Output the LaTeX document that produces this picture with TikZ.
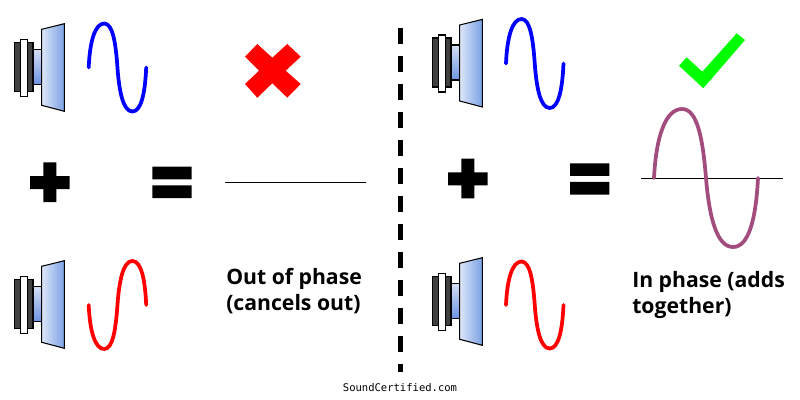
\documentclass[tikz,border=0pt]{standalone}
\usepackage{fontspec}
\setmainfont{Open Sans}
\newfontfamily\markfont{DejaVu Sans Mono}
\definecolor{conelight}{HTML}{DCE6F8}
\definecolor{conedark}{HTML}{7BA1E4}
\definecolor{necklight}{HTML}{D5DFF4}
\definecolor{neckdark}{HTML}{6C93E2}
\definecolor{magnet}{HTML}{404040}
\definecolor{sumwave}{HTML}{A34D7F}
\tikzset{
  x=0.75pt,y=-0.75pt,
  part/.style={draw=black,line width=0.8pt},
  wavestroke/.style={line width=2.8pt,line cap=round,line join=round},
  symbolfill/.style={fill=black,draw=none},
  caption/.style={font=\bfseries\fontsize{15.9pt}{19.3pt}\selectfont,anchor=north west,align=left,inner sep=0pt},
  speakerpic/.pic={
    \path[part,fill=magnet] (14.3,42.3) rectangle (33,91.3);
    \path[part,fill=white] (20.5,39.3) rectangle (27.2,96.3);
    \shade[part,top color=necklight,bottom color=neckdark] (33,49.3) rectangle (41.7,84.3);
    \shade[part,left color=conelight,right color=conedark] (41.7,29.3) -- (64.3,23.7) -- (64.3,111.3) -- (41.7,105.3) -- cycle;
  }
}
\newcommand{\drawwave}[5]{%
  \draw[wavestroke,draw=#1,shift={(#2,#3)},xscale=#4,yscale=#5]
    (0,0) .. controls (.02,-.6) and (.11,-1) .. (.27,-1)
    .. controls (.42,-1) and (.47,-.55) .. (.5,0)
    .. controls (.53,.55) and (.6,1) .. (.76,1)
    .. controls (.91,1) and (.98,.6) .. (1,0);}
\newcommand{\plussign}[2]{%
  \fill[symbolfill,shift={(#1,#2)}] (13.3,0) -- (26.3,0) -- (26.3,13.7) -- (39.7,13.7) -- (39.7,26.7) -- (26.3,26.7) -- (26.3,39.7) -- (13.3,39.7) -- (13.3,26.7) -- (0,26.7) -- (0,13.7) -- (13.3,13.7) -- cycle;}
\newcommand{\equalsign}[2]{%
  \fill[symbolfill,shift={(#1,#2)}] (0,0) rectangle (39.4,12.6) (0,18.6) rectangle (39.4,31.3);}
\begin{document}
\begin{tikzpicture}
\useasboundingbox (0,0) rectangle (800,400);
\fill[white] (0,0) rectangle (800,400);

\pic at (0,0) {speakerpic};
\pic at (0,237) {speakerpic};
\pic at (418,-4.3) {speakerpic};
\pic at (418,234) {speakerpic};

\drawwave{blue}{88.7}{67.5}{57.5}{44}
\drawwave{red}{88.7}{305}{57.5}{-44}
\drawwave{blue}{506}{63.5}{57.5}{44.5}
\drawwave{red}{506}{305}{57.5}{43.5}

\plussign{30}{162.3}
\equalsign{152.3}{166.7}
\plussign{448}{158.7}
\equalsign{570}{163.3}

\fill[red] (257.3,44) -- (245,56.7) -- (259,70.7) -- (245,84) -- (257.3,97.7) -- (272.3,83.3) -- (287.3,97.7) -- (300.7,84) -- (285.7,70.7) -- (300.7,56.7) -- (287.3,44) -- (272.3,57.7) -- cycle;
\fill[green] (679,65.7) -- (686.7,57.3) -- (702.3,71.7) -- (736.7,33.3) -- (745,40) -- (703.3,88.3) -- cycle;

\draw[black,line width=0.8pt] (225,182.7) -- (366,182.7);
\draw[black,line width=0.8pt] (641,178.3) -- (783,178.3);
\drawwave{sumwave}{654}{178}{104}{69}

\foreach \y in {28,56,...,336} \fill[black] (398.3,\y) rectangle (402.7,\y+16);
\fill[black] (398.3,364) rectangle (402.7,372);

\node[caption] (outphase) at (226,268.5) {Out of phase\\(cancels out)};
\node[caption] (inphase) at (632,271.5) {In phase (adds\\together)};
\node[font=\markfont\fontsize{7.9pt}{9pt}\selectfont,inner sep=0pt] (brand) at (400,388) {SoundCertified.com};
\end{tikzpicture}
\end{document}
